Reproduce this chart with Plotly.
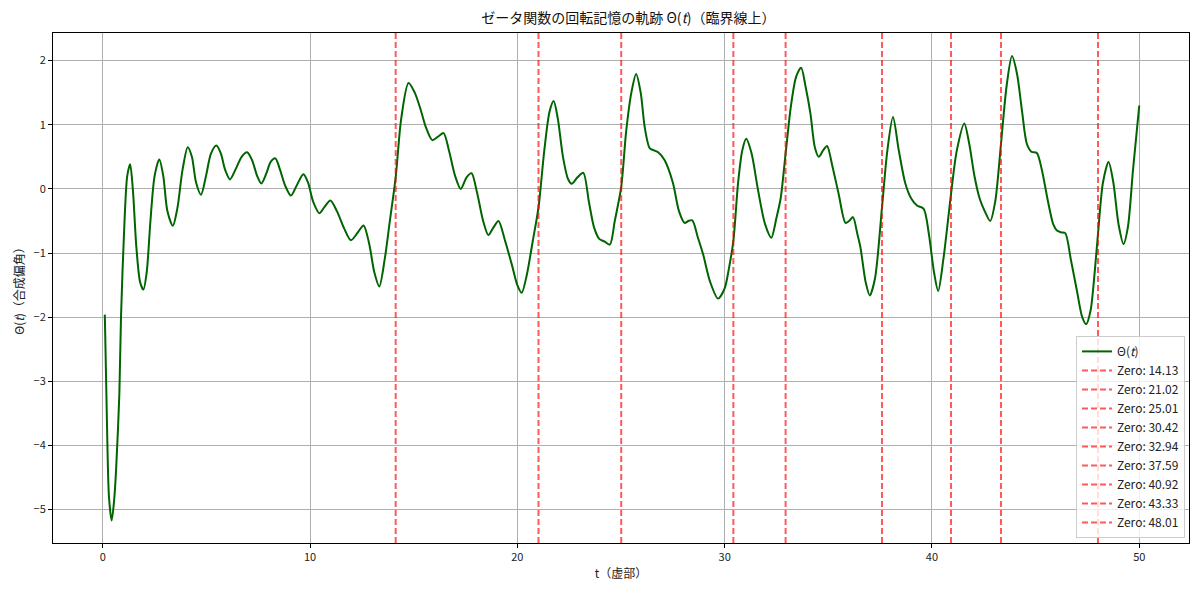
import plotly.graph_objects as go

t_vals = [0.10, 0.20, 0.30, 0.43, 0.55, 0.64, 0.80, 0.88, 1.05, 1.18, 1.32, 1.45, 1.62, 1.80, 1.96,
          2.12, 2.30, 2.50, 2.73, 2.92, 3.12, 3.38, 3.60, 3.85, 4.10, 4.30, 4.50, 4.74, 4.98,
          5.22, 5.48, 5.70, 5.90, 6.14, 6.40, 6.70, 6.96, 7.20, 7.45, 7.65, 7.90, 8.10, 8.33,
          8.55, 8.80, 9.08, 9.35, 9.68, 9.90, 10.15, 10.45, 10.70, 10.98, 11.30, 11.65, 11.97,
          12.30, 12.58, 12.85, 13.10, 13.34, 13.60, 13.85, 14.13, 14.40, 14.75, 15.05, 15.34,
          15.60, 15.90, 16.20, 16.44, 16.70, 17.00, 17.27, 17.55, 17.79, 18.05, 18.35, 18.60,
          18.85, 19.09, 19.40, 19.75, 20.00, 20.21, 20.45, 20.75, 21.02, 21.30, 21.55, 21.75,
          21.95, 22.20, 22.45, 22.62, 22.90, 23.18, 23.45, 23.70, 23.95, 24.20, 24.46, 24.70,
          25.01, 25.25, 25.50, 25.73, 25.95, 26.15, 26.39, 26.60, 26.79, 27.10, 27.50, 27.80,
          28.07, 28.25, 28.44, 28.70, 28.96, 29.30, 29.68, 30.00, 30.20, 30.42, 30.65, 30.85,
          31.04, 31.30, 31.60, 31.95, 32.25, 32.50, 32.70, 32.94, 33.20, 33.45, 33.69, 33.90,
          34.14, 34.35, 34.54, 34.75, 34.94, 35.20, 35.50, 35.83, 36.00, 36.19, 36.40, 36.55,
          36.80, 37.00, 37.25, 37.59, 37.85, 38.12, 38.40, 38.72, 39.00, 39.28, 39.60, 39.85,
          40.10, 40.30, 40.55, 40.92, 41.20, 41.56, 41.80, 42.05, 42.30, 42.55, 42.81, 43.05,
          43.33, 43.60, 43.86, 44.10, 44.35, 44.58, 44.80, 45.06, 45.30, 45.60, 45.85, 46.03,
          46.25, 46.43, 46.70, 47.00, 47.25, 47.44, 47.65, 47.85, 48.01, 48.25, 48.52, 48.75,
          49.00, 49.24, 49.45, 49.70, 50.00]

theta_vals = [-1.96, -3.60, -4.80, -5.17, -4.85, -4.40, -3.20, -2.00, -0.50, 0.20, 0.385, 0.00, -0.90, -1.45, -1.57,
              -1.30, -0.50, 0.20, 0.46, 0.20, -0.35, -0.575, -0.30, 0.30, 0.65, 0.50, 0.10, -0.09, 0.20,
              0.55, 0.675, 0.55, 0.30, 0.148, 0.30, 0.50, 0.57, 0.45, 0.20, 0.084, 0.25, 0.42, 0.475,
              0.30, 0.05, -0.105, 0.05, 0.227, 0.10, -0.20, -0.38, -0.28, -0.18, -0.35, -0.62, -0.80,
              -0.68, -0.57, -0.85, -1.30, -1.52, -1.10, -0.50, 0.18, 1.10, 1.65, 1.50, 1.23,
              0.95, 0.76, 0.82, 0.87, 0.60, 0.20, 0.00, 0.18, 0.245, -0.05, -0.50, -0.72,
              -0.60, -0.50, -0.80, -1.20, -1.50, -1.62, -1.35, -0.80, -0.29, 0.60, 1.20, 1.37,
              1.10, 0.50, 0.15, 0.08, 0.18, 0.25, -0.20, -0.60, -0.78, -0.82, -0.87, -0.50,
              0.03, 0.90, 1.50, 1.79, 1.50, 0.95, 0.63, 0.60, 0.57, 0.45, 0.10, -0.35,
              -0.53, -0.50, -0.49, -0.75, -1.02, -1.45, -1.71, -1.55, -1.25, -0.81, 0.10, 0.60,
              0.78, 0.55, 0.00, -0.55, -0.76, -0.45, -0.15, 0.55, 1.30, 1.75, 1.89, 1.60,
              1.17, 0.65, 0.50, 0.60, 0.67, 0.35, -0.08, -0.53, -0.50, -0.44, -0.70, -0.91,
              -1.45, -1.66, -1.40, -0.29, 0.60, 1.12, 0.60, 0.08, -0.15, -0.26, -0.31, -0.70,
              -1.30, -1.59, -1.10, -0.08, 0.60, 1.02, 0.70, 0.20, -0.15, -0.35, -0.50, -0.20,
              0.70, 1.60, 2.07, 1.80, 1.20, 0.70, 0.58, 0.56, 0.30, -0.20, -0.55, -0.65,
              -0.68, -0.69, -1.10, -1.60, -2.00, -2.11, -1.90, -1.30, -0.70, 0.10, 0.42, 0.10,
              -0.55, -0.86, -0.60, 0.30, 1.30]

zeros = [14.13, 21.02, 25.01, 30.42, 32.94, 37.59, 40.92, 43.33, 48.01]

x_ticks = [0, 10, 20, 30, 40, 50]
y_ticks = [-5, -4, -3, -2, -1, 0, 1, 2]

FONT = "Noto Sans CJK JP, DejaVu Sans, sans-serif"

fig = go.Figure()
fig.add_trace(go.Scatter(
    x=t_vals, y=theta_vals, mode="lines",
    line=dict(color="#006400", width=2, shape="spline", smoothing=0.8),
    name="Θ(<i>t</i>)",
))
for z in zeros:
    fig.add_trace(go.Scatter(
        x=[z, z], y=[0, 1], yaxis="y2", mode="lines",
        line=dict(color="rgba(255,0,0,0.65)", width=2, dash="6px,3px"),
        name=f"Zero: {z:.2f}",
    ))

fig.update_layout(
    width=1200, height=595,
    margin=dict(l=45, r=19, t=25, b=60),
    paper_bgcolor="white", plot_bgcolor="white",
    font=dict(family=FONT, size=11, color="#222"),
    title=dict(text="ゼータ関数の回転記憶の軌跡 Θ(<i>t</i>)（臨界線上）",
               x=0.517, xanchor="center", y=0.983, yanchor="middle",
               font=dict(family=FONT, size=14, color="#111")),
    xaxis=dict(range=[-2.4, 52.4], tickvals=x_ticks, showgrid=True,
               gridcolor="#b0b0b0", gridwidth=1, zeroline=False,
               showline=True, linecolor="black", linewidth=1, mirror=True,
               ticks="outside", ticklen=4, tickcolor="black",
               title=dict(text="t（虚部）", standoff=6, font=dict(size=12))),
    yaxis=dict(range=[-5.52, 2.43], tickvals=y_ticks,
               ticktext=[f"−{abs(v)}" if v < 0 else str(v) for v in y_ticks],
               showgrid=True, gridcolor="#b0b0b0", gridwidth=1, zeroline=False,
               showline=True, linecolor="black", linewidth=1, mirror=True,
               ticks="outside", ticklen=4, tickcolor="black",
               title=dict(text="Θ(<i>t</i>)（合成偏角）", standoff=6, font=dict(size=12))),
    yaxis2=dict(range=[0, 1], overlaying="y", visible=False, fixedrange=True),
    legend=dict(x=0.9965, y=0.01, xanchor="right", yanchor="bottom",
                bgcolor="rgba(255,255,255,0.8)", bordercolor="#cccccc", borderwidth=1,
                font=dict(family=FONT, size=12), tracegroupgap=0, itemwidth=30),
    showlegend=True,
)

fig.write_html("out.html")
